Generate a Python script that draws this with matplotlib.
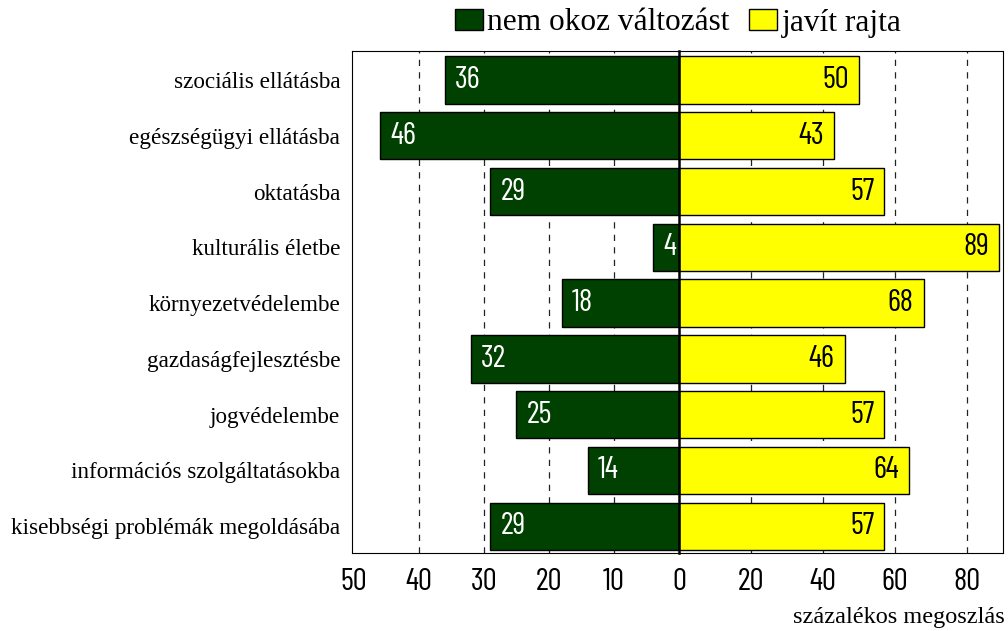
import matplotlib
matplotlib.use("Agg")
import matplotlib.pyplot as plt
from matplotlib.patches import Patch
from matplotlib import font_manager as fm
from matplotlib.transforms import offset_copy

categories = ["szociális ellátásba", "egészségügyi ellátásba", "oktatásba",
              "kulturális életbe", "környezetvédelembe", "gazdaságfejlesztésbe",
              "jogvédelembe", "információs szolgáltatásokba",
              "kisebbségi problémák megoldásába"]
no_change = [36, 46, 29, 4, 18, 32, 25, 14, 29]
improves = [50, 43, 57, 89, 68, 46, 57, 64, 57]
left_ticks = [50, 40, 30, 20, 10, 0]
right_ticks = [20, 40, 60, 80]
series_names = ["nem okoz változást", "javít rajta"]
x_label = "százalékos megoszlás"

names = {f.name for f in fm.fontManager.ttflist}
narrow = [n for n in ("Barlow Condensed", "Roboto Condensed", "Archivo Narrow")
          if n in names] + ["DejaVu Sans"]
serif = ["Liberation Serif", "DejaVu Serif"]

GREEN = "#004000"
YELLOW = "#FFFF00"

fig = plt.figure(figsize=(10.08, 6.31), dpi=100)
W, H = 1008, 631
x0, xz, x1 = 352, 679, 1003
ytop, ybot = 51, 553
axL = fig.add_axes([x0 / W, 1 - ybot / H, (xz - x0) / W, (ybot - ytop) / H])
axR = fig.add_axes([xz / W, 1 - ybot / H, (x1 - xz) / W, (ybot - ytop) / H], sharey=axL)

ypos = list(range(len(categories)))
h = 0.85
axL.barh(ypos, no_change, height=h, color=GREEN, edgecolor="black", linewidth=1, zorder=3)
axR.barh(ypos, improves, height=h, color=YELLOW, edgecolor="black", linewidth=1, zorder=3)
axL.set_xlim(50.3, 0)
axR.set_xlim(0, 90)
axL.set_ylim(8.48, -0.52)

for ax, ticks in ((axL, [40, 30, 20, 10]), (axR, [20, 40, 60, 80])):
    for t in ticks:
        ax.axvline(t, color="#222222", linestyle=(0, (5, 5)), linewidth=0.9, zorder=1)

axL.set_xticks(left_ticks)
axL.set_xticklabels([str(t) for t in left_ticks])
axR.set_xticks(right_ticks)
axR.set_xticklabels([str(t) for t in right_ticks])
for ax in (axL, axR):
    ax.tick_params(axis="x", length=0, pad=11)
    for lab in ax.get_xticklabels():
        lab.set_fontfamily(narrow)
        lab.set_fontsize(22.5)
axL.set_yticks(ypos)
axL.set_yticklabels(categories, fontfamily=serif, fontsize=16.7)
axL.tick_params(axis="y", length=0, pad=8.5)
axR.tick_params(axis="y", left=False, labelleft=False)

axL.spines["right"].set_visible(False)
axR.spines["left"].set_visible(True)
axR.spines["left"].set_linewidth(1.8)
axR.spines["left"].set_zorder(5)
for ax in (axL, axR):
    for s in ax.spines.values():
        s.set_color("black")

for y, v in zip(ypos, no_change):
    tr = offset_copy(axL.transData, fig=fig, x=10, y=0, units="dots")
    axL.text(v, y, str(v), transform=tr, ha="left", va="center", color="white",
             fontfamily=narrow, fontsize=22.5, zorder=4)
for y, v in zip(ypos, improves):
    tr = offset_copy(axR.transData, fig=fig, x=-10, y=0, units="dots")
    axR.text(v, y, str(v), transform=tr, ha="right", va="center", color="black",
             fontfamily=narrow, fontsize=22.5, zorder=4)

handles = [Patch(facecolor=GREEN, edgecolor="black"), Patch(facecolor=YELLOW, edgecolor="black")]
fig.legend(handles, series_names, loc="center", bbox_to_anchor=(678 / W, 1 - 23 / H),
           ncol=2, frameon=False, prop={"family": serif, "size": 22.6},
           handlelength=0.9, handleheight=0.65, handletextpad=0.15, columnspacing=0.6,
           borderpad=0.1)

fig.text(1005 / W, 1 - 623 / H, x_label, ha="right", va="baseline",
         fontfamily=serif, fontsize=17.5)

fig.savefig("out.png", dpi=100)
